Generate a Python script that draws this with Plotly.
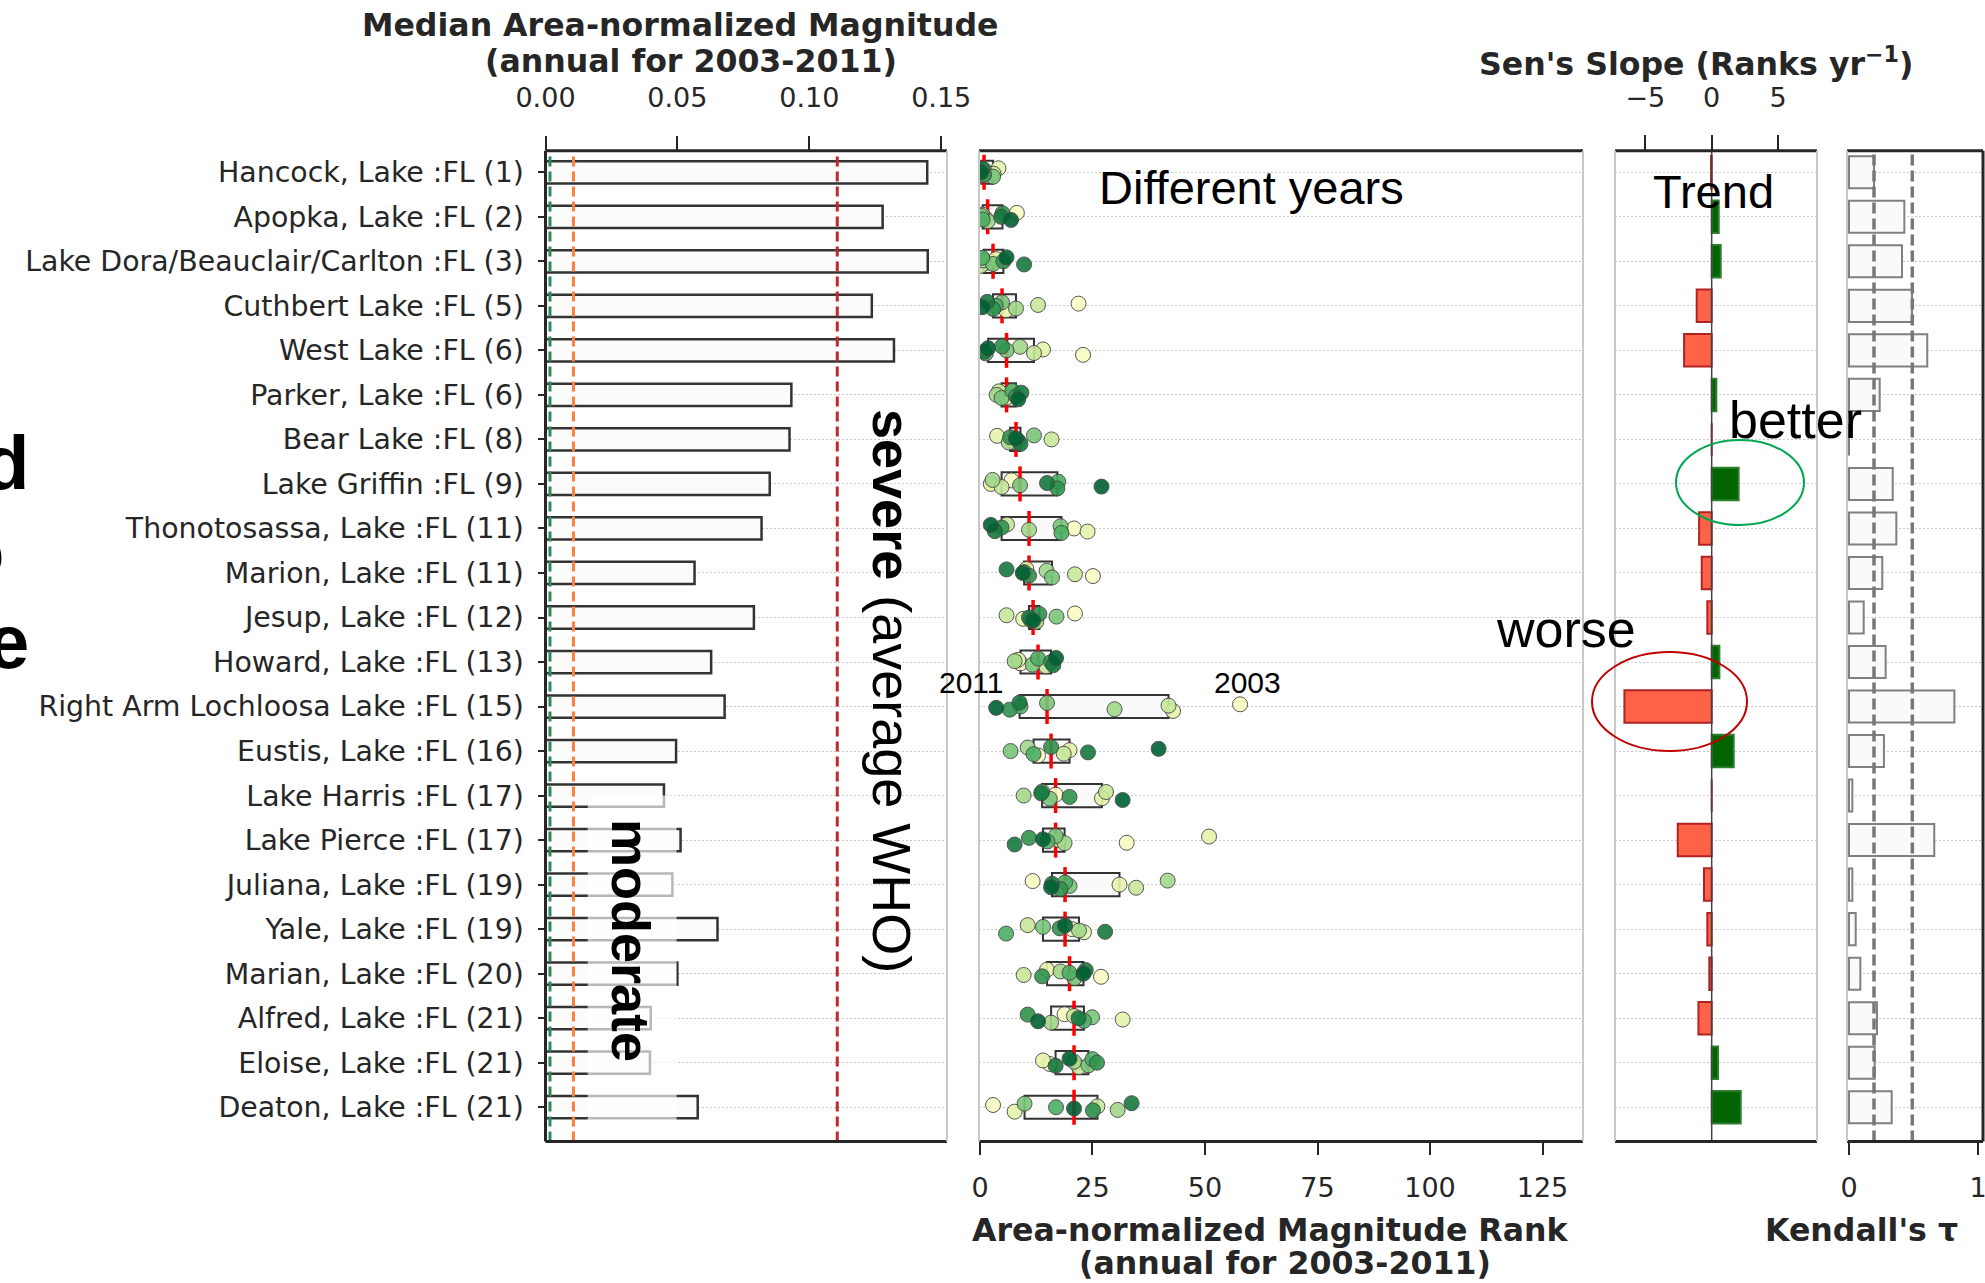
import numpy as np
import plotly.graph_objects as go

W, H = 1985, 1283

# ---------------- data ----------------
lakes = ["Hancock, Lake :FL (1)", "Apopka, Lake :FL (2)", "Lake Dora/Beauclair/Carlton :FL (3)",
         "Cuthbert Lake :FL (5)", "West Lake :FL (6)", "Parker, Lake :FL (6)", "Bear Lake :FL (8)",
         "Lake Griffin :FL (9)", "Thonotosassa, Lake :FL (11)", "Marion, Lake :FL (11)",
         "Jesup, Lake :FL (12)", "Howard, Lake :FL (13)", "Right Arm Lochloosa Lake :FL (15)",
         "Eustis, Lake :FL (16)", "Lake Harris :FL (17)", "Lake Pierce :FL (17)",
         "Juliana, Lake :FL (19)", "Yale, Lake :FL (19)", "Marian, Lake :FL (20)",
         "Alfred, Lake :FL (21)", "Eloise, Lake :FL (21)", "Deaton, Lake :FL (21)"]

median_magnitude = [0.1447, 0.1278, 0.1449, 0.1237, 0.1321, 0.0932, 0.0925, 0.0850, 0.0819, 0.0565,
                    0.0790, 0.0628, 0.0679, 0.0495, 0.0449, 0.0512, 0.0481, 0.0652, 0.0500, 0.0399,
                    0.0396, 0.0577]

years = [2003, 2004, 2005, 2006, 2007, 2008, 2009, 2010, 2011]
rank_2003 = [0.3, 8.2, 1.5, 21.9, 22.9, 5.2, 7.5, 7.0, 20.9, 25.1, 21.1, 9.0, 57.8, 12.9, 16.8, 32.6, 11.7, 20.5, 26.9, 18.8, 15.5, 2.9]
rank_2004 = [4.1, 1.2, 3.5, 5.8, 14.0, 5.9, 3.8, 2.4, 23.9, 10.3, 9.6, 8.5, 42.9, 19.9, 27.1, 50.9, 31.0, 23.1, 14.9, 31.7, 14.0, 7.7]
rank_2005 = [3.0, 0.5, 0.2, 12.9, 12.0, 4.2, 15.9, 4.8, 6.0, 21.1, 5.9, 14.7, 41.9, 18.6, 28.0, 17.5, 34.7, 10.6, 9.7, 20.9, 22.0, 26.1]
rank_2006 = [0.9, 1.7, 0.8, 8.0, 8.9, 3.7, 6.4, 2.8, 10.9, 14.8, 12.5, 7.7, 29.9, 10.6, 9.7, 18.8, 41.7, 22.0, 17.9, 15.8, 20.9, 30.6]
rank_2007 = [2.9, 0.3, 2.9, 4.9, 5.9, 4.8, 12.0, 8.9, 17.9, 16.0, 17.0, 11.7, 14.9, 6.8, 15.5, 16.8, 19.9, 14.0, 21.0, 24.9, 24.1, 9.9]
rank_2008 = [0.1, 0.6, 0.5, 3.5, 1.3, 7.2, 8.5, 17.4, 18.1, 9.8, 11.3, 12.9, 9.0, 11.9, 13.8, 15.0, 18.9, 5.8, 19.9, 23.1, 25.0, 16.9]
rank_2009 = [0.9, 5.0, 5.2, 2.9, 4.9, 8.0, 6.7, 17.2, 4.8, 10.9, 13.2, 15.8, 6.6, 15.8, 19.9, 10.9, 17.9, 17.7, 13.8, 10.6, 26.0, 25.1]
rank_2010 = [0.6, 4.7, 9.8, 1.6, 0.9, 9.2, 9.0, 14.9, 3.3, 5.9, 10.9, 16.3, 8.8, 24.0, 13.6, 7.7, 16.0, 27.8, 23.5, 21.9, 16.8, 33.7]
rank_2011 = [0.2, 6.9, 5.9, 0.5, 1.8, 8.5, 8.0, 27.0, 2.4, 9.5, 11.8, 16.9, 3.6, 39.7, 31.7, 14.0, 15.8, 18.9, 23.0, 12.9, 19.9, 20.9]

sens_slope = [-0.05, 0.53, 0.68, -1.13, -2.08, 0.35, 0.0, 2.03, -0.95, -0.75, -0.33, 0.58, -6.58, 1.66,
              0.0, -2.56, -0.58, -0.33, -0.18, -1.0, 0.48, 2.19]
kendall_tau = [0.194, 0.429, 0.411, 0.488, 0.607, 0.238, 0.0, 0.339, 0.367, 0.258, 0.114, 0.284, 0.817,
               0.271, 0.026, 0.661, 0.026, 0.052, 0.088, 0.217, 0.199, 0.331]

who_low, who_moderate, who_severe = 0.0017, 0.0106, 0.1106
tau_lines = [0.194, 0.491]

mag_ticks = [0.00, 0.05, 0.10, 0.15]
rank_ticks = [0, 25, 50, 75, 100, 125]
slope_ticks = [-5, 0, 5]
tau_ticks = [0, 1]

# ---------------- styling ----------------
year_colors = ["#f9fcc2", "#e5f5ac", "#c7e89b", "#a2d88a", "#78c679",
               "#4cb063", "#2f944d", "#15793e", "#006134"]
jitter = [0.07, -0.09, 0.03, -0.05, 0.10, -0.02, 0.06, -0.08, 0.0]
DARK = "#262626"
LIGHT = "#c8c8c8"
TICKFONT = dict(family="DejaVu Sans", size=27, color=DARK)


def px(x):
    return x / W


def py(y):
    return 1 - y / H


TOP, BOT = 150.7, 1141.5
ydom = [py(BOT), py(TOP)]
yrange = [21.77, -0.485]
idx = list(range(len(lakes)))

ranks = np.array([rank_2003, rank_2004, rank_2005, rank_2006, rank_2007,
                  rank_2008, rank_2009, rank_2010, rank_2011])  # (years, lakes)
q1, med, q3 = np.percentile(ranks, [25, 50, 75], axis=0)

fig = go.Figure()

# left panel: median magnitude bars
fig.add_trace(go.Bar(y=idx, x=median_magnitude, orientation="h", width=0.5,
                     marker=dict(color="#fbfbfb", line=dict(color="#333333", width=2.5)),
                     xaxis="x", yaxis="y", hoverinfo="skip"))

# middle panel: boxes (IQR), medians, yearly points
fig.add_trace(go.Bar(y=idx, x=q3 - q1, base=q1, orientation="h", width=0.52,
                     marker=dict(color="#fafafa", line=dict(color="#333333", width=2)),
                     xaxis="x2", yaxis="y2", hoverinfo="skip"))
fig.add_trace(go.Scatter(x=med, y=idx, mode="markers",
                         marker=dict(symbol="line-ns", size=25, line=dict(color="#ff0000", width=3.5)),
                         xaxis="x2", yaxis="y2", hoverinfo="skip"))
for k, yr in enumerate(years):
    yy = [i + jitter[(k + i) % len(jitter)] for i in idx]
    fig.add_trace(go.Scatter(x=ranks[k], y=yy, mode="markers", name=str(yr),
                             marker=dict(size=15, color=year_colors[k], opacity=0.9,
                                         line=dict(color="#444444", width=1)),
                             xaxis="x2", yaxis="y2"))

# Sen's slope bars
s_fill = ["#006400" if v > 0 else "#ff6347" for v in sens_slope]
s_edge = ["#2d7f2d" if v > 0 else "#b22222" for v in sens_slope]
fig.add_trace(go.Bar(y=idx, x=sens_slope, orientation="h", width=0.73,
                     marker=dict(color=s_fill, line=dict(color=s_edge, width=2)),
                     xaxis="x3", yaxis="y3", hoverinfo="skip"))

# Kendall's tau bars
fig.add_trace(go.Bar(y=idx, x=kendall_tau, orientation="h", width=0.72,
                     marker=dict(color="#fafafa", line=dict(color="#808080", width=2)),
                     xaxis="x4", yaxis="y4", hoverinfo="skip"))

common_y = dict(domain=ydom, range=yrange, showgrid=True, gridcolor=LIGHT, griddash="2px,2px",
                gridwidth=1, zeroline=False, showline=False, tickvals=idx, automargin=False)
common_x = dict(showgrid=False, zeroline=False, showline=False, tickfont=TICKFONT,
                ticks="outside", tickwidth=2, tickcolor=DARK, automargin=False,
                ticklabeloverflow="allow")

layout = dict(
    width=W, height=H, margin=dict(l=0, r=0, t=0, b=0, autoexpand=False),
    paper_bgcolor="white", plot_bgcolor="white", showlegend=False, barmode="overlay",
    xaxis=dict(**common_x, domain=[px(545.5), px(947)], anchor="y", side="top", range=[0, 0.1522],
               tickvals=mag_ticks, tickformat=".2f", ticklen=14, ticklabelstandoff=18),
    yaxis=dict(**common_y, anchor="x", ticktext=lakes, ticks="outside", ticklen=7, tickwidth=2,
               tickcolor=DARK, tickfont=dict(family="DejaVu Sans", size=28.4, color=DARK),
               ticklabelstandoff=8),
    xaxis2=dict(**common_x, domain=[px(979), px(1583)], anchor="y2", side="bottom",
                range=[-0.22, 134.0], tickvals=rank_ticks, ticklen=12, ticklabelstandoff=10),
    yaxis2=dict(**common_y, anchor="x2", matches="y", showticklabels=False, ticks=""),
    xaxis3=dict(**common_x, domain=[px(1615), px(1817)], anchor="y3", side="top",
                range=[-7.29, 7.94], tickvals=slope_ticks, ticklen=15, ticklabelstandoff=17),
    yaxis3=dict(**common_y, anchor="x3", matches="y", showticklabels=False, ticks=""),
    xaxis4=dict(**common_x, domain=[px(1847), px(1983)], anchor="y4", side="bottom",
                range=[-0.0155, 1.039], tickvals=tau_ticks, ticklen=12, ticklabelstandoff=10),
    yaxis4=dict(**common_y, anchor="x4", matches="y", showticklabels=False, ticks=""),
)
fig.update_layout(**layout)

shapes = []


def spines(n, top, bottom, left, right):
    xr = "x domain" if n == 1 else f"x{n} domain"
    yr = "y domain" if n == 1 else f"y{n} domain"
    sty = {"d": dict(color=DARK, width=3), "l": dict(color=LIGHT, width=2)}
    for (x0, y0, x1, y1), s in [((0, 1, 1, 1), top), ((0, 0, 1, 0), bottom),
                                ((0, 0, 0, 1), left), ((1, 0, 1, 1), right)]:
        shapes.append(dict(type="line", xref=xr, yref=yr, x0=x0, y0=y0, x1=x1, y1=y1,
                           line=sty[s], layer="above"))


# threshold lines in left panel
for v, c in [(who_low, "#2e8b57"), (who_moderate, "#ff7f3f"), (who_severe, "#c0282d")]:
    shapes.append(dict(type="line", xref="x", yref="y domain", x0=v, x1=v, y0=0, y1=1,
                       line=dict(color=c, width=3, dash="10px,5px"), layer="above"))
# white translucent box behind "moderate"
shapes.append(dict(type="rect", xref="x", yref="y", x0=0.016, x1=0.0497, y0=14.0, y1=21.55,
                   fillcolor="rgba(255,255,255,0.65)", line=dict(width=0), layer="above"))
# zero line in Sen's slope panel
shapes.append(dict(type="line", xref="x3", yref="y3 domain", x0=0, x1=0, y0=0, y1=1,
                   line=dict(color="#444444", width=1.5), layer="above"))
# Kendall reference lines
for v in tau_lines:
    shapes.append(dict(type="line", xref="x4", yref="y4 domain", x0=v, x1=v, y0=0, y1=1,
                       line=dict(color="#777777", width=3.5, dash="11px,5px"), layer="above"))

spines(1, "d", "d", "d", "l")
spines(2, "d", "d", "l", "l")
spines(3, "d", "d", "l", "l")
spines(4, "d", "d", "l", "d")

# highlight ellipses
shapes.append(dict(type="circle", xref="paper", yref="paper", x0=px(1676), x1=px(1804),
                   y0=py(525), y1=py(440), line=dict(color="#00a651", width=2)))
shapes.append(dict(type="circle", xref="paper", yref="paper", x0=px(1592), x1=px(1747),
                   y0=py(751), y1=py(652), line=dict(color="#c00000", width=2)))
fig.update_layout(shapes=shapes)

ann = []


def text(t, x, y, size, family="Liberation Sans", color="black", angle=0, xanchor="center"):
    ann.append(dict(text=t, x=px(x), y=py(y), xref="paper", yref="paper", showarrow=False,
                    xanchor=xanchor, yanchor="middle", textangle=angle,
                    font=dict(family=family, size=size, color=color)))


TF = "DejaVu Sans"
text("<b>Median Area-normalized Magnitude</b>", 680, 25, 31.6, TF, DARK)
text("<b>(annual for 2003-2011)</b>", 691, 61, 31.6, TF, DARK)
text("<b>Sen's Slope (Ranks yr<sup>−1</sup>)</b>", 1696, 62, 31.6, TF, DARK)
text("<b>Area-normalized Magnitude Rank</b>", 1270, 1230, 31.6, TF, DARK)
text("<b>(annual for 2003-2011)</b>", 1285, 1263, 31.6, TF, DARK)
text("<b>Kendall's τ</b>", 1861, 1230, 31.6, TF, DARK)

text("Different years", 1251, 187, 47)
text("Trend", 1713, 191, 47)
text("better", 1795, 420, 52)
text("worse", 1566, 629, 52)
text("2011", 971, 682, 30)
text("2003", 1247, 682, 30)
text("<b>severe</b> (average WHO)", 892, 691, 54, angle=90)
text("<b>moderate</b>", 631, 940, 54, angle=90)
text("<b>d</b>", 31, 462, 76, xanchor="right")
text("<b>o</b>", 6, 551, 76, xanchor="right")
text("<b>e</b>", 31, 641, 76, xanchor="right")
fig.update_layout(annotations=ann)

fig.write_html("out.html")
